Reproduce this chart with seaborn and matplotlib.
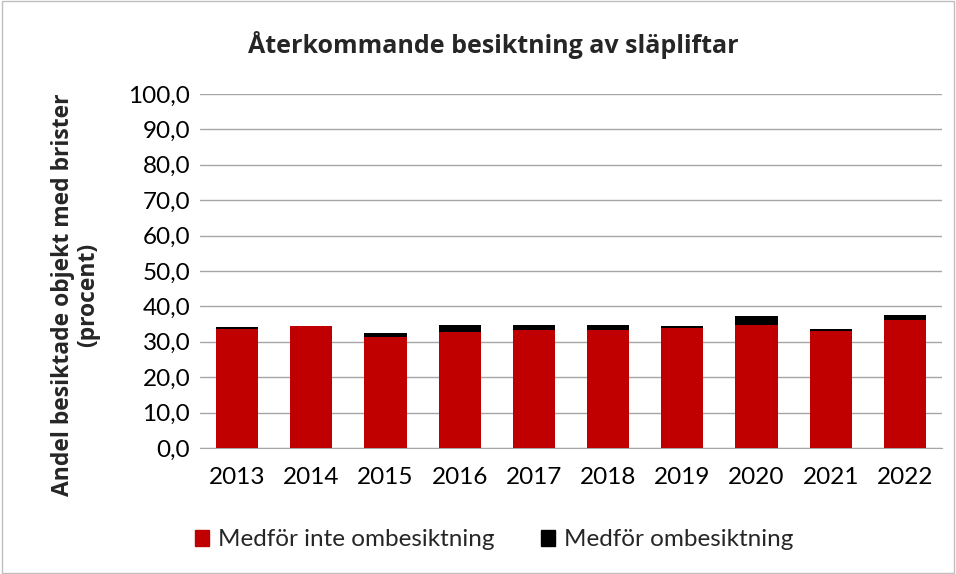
import matplotlib.pyplot as plt
import numpy as np
import pandas as pd
import seaborn as sns
from matplotlib.ticker import FuncFormatter
from matplotlib.patches import Patch, Rectangle

years = ['2013', '2014', '2015', '2016', '2017', '2018', '2019', '2020', '2021', '2022']
inte_omb = [33.6, 34.4, 31.4, 32.9, 33.4, 33.3, 33.9, 34.8, 33.1, 36.1]
omb = [0.5, 0.2, 1.2, 1.9, 1.4, 1.4, 0.7, 2.4, 0.4, 1.5]

df = pd.DataFrame({'year': years, 'inte': inte_omb, 'omb': omb})

sns.set_style('white')
plt.rcParams['font.family'] = ['Lato', 'DejaVu Sans']

fig = plt.figure(figsize=(9.56, 5.74), dpi=100)
ax = fig.add_axes([200 / 956, 1 - 448 / 574, 742 / 956, 354 / 574])

red = '#C00000'
sns.barplot(data=df, x='year', y='inte', color=red, width=0.57,
            saturation=1, linewidth=0, ax=ax, zorder=3)
sns.barplot(data=df, x='year', y='omb', bottom=df['inte'], color='black',
            width=0.57, saturation=1, linewidth=0, ax=ax, zorder=3)

ax.set_ylim(0, 100)
ax.set_yticks(np.arange(0, 101, 10))
ax.yaxis.set_major_formatter(FuncFormatter(lambda v, p: f'{v:.1f}'.replace('.', ',')))
ax.grid(axis='y', color='#a6a6a6', linewidth=1, zorder=0)
for s in ['top', 'right', 'left']:
    ax.spines[s].set_visible(False)
ax.spines['bottom'].set_color('#a6a6a6')
ax.tick_params(axis='both', length=0, labelsize=17.5, colors='black')
ax.tick_params(axis='y', pad=7)
ax.tick_params(axis='x', pad=14)
ax.set_xlabel('')
ax.set_ylabel('Andel besiktade objekt med brister\n(procent)', fontsize=16.5,
              fontweight='bold', linespacing=1.05, family=['Open Sans', 'DejaVu Sans'])
ax.yaxis.set_label_coords(-0.135, 0.432)

fig.text(493 / 956, 1 - 45 / 574, 'Återkommande besiktning av släpliftar',
         ha='center', va='center', fontsize=18, fontweight='bold',
         family=['Open Sans', 'DejaVu Sans'])

handles = [Patch(color=red, label='Medför inte ombesiktning'),
           Patch(color='black', label='Medför ombesiktning')]
fig.legend(handles=handles, loc='center', bbox_to_anchor=(494 / 956, 1 - 540 / 574),
           ncol=2, frameon=False, fontsize=17.5, handlelength=0.6, handleheight=0.6,
           columnspacing=1.9, handletextpad=0.35)

fig.patches.append(Rectangle((0.002, 0.002), 0.996, 0.996, transform=fig.transFigure,
                             fill=False, edgecolor='#bfbfbf', linewidth=1))

fig.savefig('out.png', dpi=100)
